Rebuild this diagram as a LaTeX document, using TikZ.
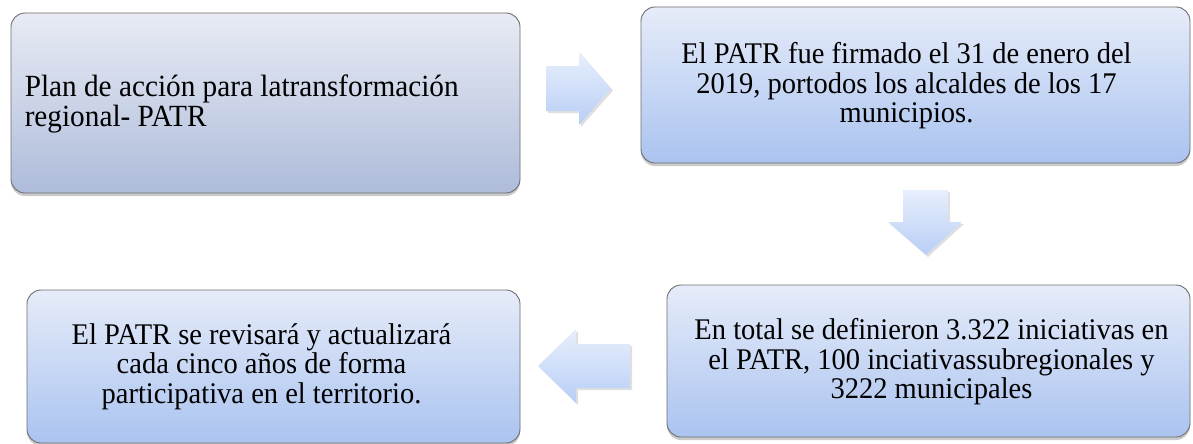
\documentclass[tikz,border=0pt]{standalone}
\usepackage{fontspec}
\setmainfont[FakeStretch=0.95]{Liberation Serif}
\usetikzlibrary{shadows}
\definecolor{boxtop}{HTML}{E6ECF9}
\definecolor{boxbot}{HTML}{AAC3F0}
\definecolor{greytop}{HTML}{E8EBF4}
\definecolor{greybot}{HTML}{AEBCDA}
\definecolor{arrtop}{HTML}{E8EFFC}
\definecolor{arrbot}{HTML}{B8CEF6}
\definecolor{edge}{HTML}{6E6E6E}
\tikzset{
  box/.style={draw=edge, line width=0.9pt, rounded corners=14pt, top color=boxtop, bottom color=boxbot,
    drop shadow={opacity=0.35, shadow xshift=0pt, shadow yshift=-3pt, fill=black!60}, inner sep=0pt},
  greybox/.style={box, top color=greytop, bottom color=greybot},
  txt/.style={font=\fontsize{30}{29.5}\selectfont, align=center, inner sep=0pt},
  blockarrow/.style={top color=arrtop, bottom color=arrbot, draw=none,
    drop shadow={opacity=0.25, shadow xshift=2pt, shadow yshift=-2pt, fill=black!50}},
}
\begin{document}
\begin{tikzpicture}[x=1pt,y=-1pt]
\useasboundingbox (0,0) rectangle (1193,444);
\node[greybox, minimum width=509pt, minimum height=180pt] (b1) at (265.5,103) {};
\node[box, minimum width=549pt, minimum height=156pt] (b2) at (915.5,85) {};
\node[box, minimum width=523pt, minimum height=152pt] (b3) at (928.5,361) {};
\node[box, minimum width=493pt, minimum height=153pt] (b4) at (273.5,366.5) {};
\node[txt, font=\fontsize{30.8}{30}\selectfont, align=left, anchor=west] (t1) at ([xshift=14pt,yshift=-1pt]b1.west)
  {Plan de acción para latransformación\\regional- PATR};
\node[txt] (t2) at ([xshift=-9pt,yshift=-1pt]b2.center)
  {El PATR fue firmado el 31 de enero del\\2019, portodos los alcaldes de los 17\\municipios.};
\node[txt] (t3) at ([xshift=3pt,yshift=-1pt]b3.center)
  {En total se definieron 3.322 iniciativas en\\el PATR, 100 inciativassubregionales y\\3222 municipales};
\node[txt] (t4) at ([xshift=-12pt]b4.center)
  {El PATR se revisará y actualizará\\cada cinco años de forma\\participativa en el territorio.};
% block arrows
\path[blockarrow] (546,66) -- (579,66) -- (579,52) -- (611,88.5) -- (579,125) -- (579,111) -- (546,111) -- cycle;
\path[blockarrow] (903,190) -- (948,190) -- (948,222) -- (962,222) -- (926,255) -- (888,222) -- (903,222) -- cycle;
\path[blockarrow] (630,344) -- (576,344) -- (576,329) -- (538,366) -- (576,403) -- (576,388) -- (630,388) -- cycle;
\end{tikzpicture}
\end{document}
